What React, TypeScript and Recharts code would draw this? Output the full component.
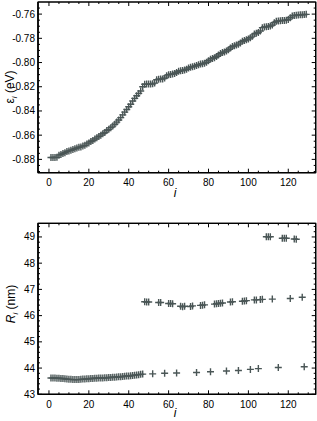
import { ScatterChart, Scatter, XAxis, YAxis, CartesianGrid, ReferenceArea } from 'recharts'

// top panel: orbital energy for every state i
const stateIndex = [
  1, 2, 3, 4, 5, 6, 7, 8, 9, 10, 11, 12, 13, 14, 15, 16, 17, 18, 19, 20,
  21, 22, 23, 24, 25, 26, 27, 28, 29, 30, 31, 32, 33, 34, 35, 36, 37, 38, 39, 40,
  41, 42, 43, 44, 45, 46, 47, 48, 49, 50, 51, 52, 53, 54, 55, 56, 57, 58, 59, 60,
  61, 62, 63, 64, 65, 66, 67, 68, 69, 70, 71, 72, 73, 74, 75, 76, 77, 78, 79, 80,
  81, 82, 83, 84, 85, 86, 87, 88, 89, 90, 91, 92, 93, 94, 95, 96, 97, 98, 99, 100,
  101, 102, 103, 104, 105, 106, 107, 108, 109, 110, 111, 112, 113, 114, 115, 116, 117, 118, 119, 120,
  121, 122, 123, 124, 125, 126, 127, 128, 129,
]
const energies = [
  -0.8785, -0.8785, -0.8784, -0.8782, -0.8765, -0.876, -0.8752, -0.8745, -0.8735, -0.873,
  -0.8724, -0.8718, -0.8712, -0.8706, -0.87, -0.8697, -0.869, -0.8684, -0.8672, -0.8664,
  -0.8652, -0.8644, -0.8632, -0.8622, -0.861, -0.86, -0.8588, -0.8578, -0.8562, -0.8552,
  -0.8538, -0.8525, -0.851, -0.8492, -0.8475, -0.8455, -0.8432, -0.841, -0.8388, -0.8365,
  -0.8345, -0.8318, -0.8296, -0.8275, -0.8255, -0.8235, -0.82, -0.818, -0.8178, -0.8178,
  -0.8178, -0.8176, -0.817, -0.8142, -0.8138, -0.8137, -0.8135, -0.8128, -0.811, -0.81,
  -0.8098, -0.8095, -0.809, -0.8082, -0.8072, -0.8068, -0.8066, -0.8062, -0.8055, -0.8045,
  -0.8038, -0.8035, -0.803, -0.8025, -0.8018, -0.8013, -0.801, -0.8005, -0.7998, -0.7985,
  -0.7972, -0.7966, -0.796, -0.795, -0.7938, -0.7925, -0.7918, -0.7912, -0.7905, -0.7895,
  -0.788, -0.7868, -0.7862, -0.7856, -0.7848, -0.7838, -0.7825, -0.7818, -0.7812, -0.7805,
  -0.7795, -0.7782, -0.7765, -0.7758, -0.7752, -0.774, -0.7712, -0.7706, -0.7704, -0.7702,
  -0.7698, -0.769, -0.7672, -0.766, -0.7656, -0.7655, -0.7653, -0.7652, -0.765, -0.7645,
  -0.763, -0.7615, -0.7612, -0.761, -0.7608, -0.7606, -0.7605, -0.7603, -0.7602,
]

// bottom panel: radius, split in the three visible branches
const lowerIndex = [
  1, 2, 3, 4, 5, 6, 7, 8, 9, 10, 11, 12, 13, 14, 15, 16, 17, 18, 19, 20,
  21, 22, 23, 24, 25, 26, 27, 28, 29, 30, 31, 32, 33, 34, 35, 36, 37, 38, 39, 40,
  41, 42, 43, 44, 45, 46, 47, 52, 58, 64, 74, 81, 89, 95, 101, 105, 115, 128,
]
const lowerRadius = [
  43.62, 43.62, 43.62, 43.61, 43.61, 43.6, 43.6, 43.59, 43.58, 43.57,
  43.57, 43.56, 43.56, 43.56, 43.56, 43.57, 43.58, 43.58, 43.59, 43.59,
  43.6, 43.6, 43.61, 43.61, 43.62, 43.62, 43.62, 43.63, 43.63, 43.64,
  43.64, 43.65, 43.65, 43.66, 43.67, 43.67, 43.68, 43.69, 43.7, 43.7,
  43.71, 43.72, 43.73, 43.74, 43.75, 43.76, 43.77,
  43.78, 43.8, 43.81, 43.83, 43.86, 43.89, 43.91, 43.95, 43.98, 44.02, 44.05,
]
const middleIndex = [
  48, 49, 50, 55, 56, 60, 61, 62, 66, 67, 68, 71, 72, 76, 77, 78,
  83, 84, 85, 86, 87, 91, 92, 97, 98, 99, 103, 104, 106, 107, 112, 121, 127,
]
const middleRadius = [
  46.53, 46.52, 46.52, 46.5, 46.5, 46.46, 46.46, 46.45, 46.36, 46.34, 46.36, 46.35, 46.37, 46.39, 46.4, 46.41,
  46.44, 46.45, 46.46, 46.47, 46.48, 46.52, 46.53, 46.55, 46.56, 46.57, 46.6, 46.6, 46.61, 46.62, 46.63, 46.65, 46.7,
]
const upperIndex = [109, 110, 111, 117, 118, 119, 123, 124]
const upperRadius = [49.01, 49.01, 49.01, 48.95, 48.95, 48.95, 48.92, 48.91]

const xMajorTicks = [0, 20, 40, 60, 80, 100, 120]
const energyMajorTicks = [-0.88, -0.86, -0.84, -0.82, -0.8, -0.78, -0.76]
const radiusMajorTicks = [43, 44, 45, 46, 47, 48, 49]

const FONT = '"Liberation Sans", Arial, Helvetica, sans-serif'
const MARK = '#4a5656'
const X_DOMAIN: [number, number] = [-5.5, 133.75]
const ENERGY_DOMAIN: [number, number] = [-0.891, -0.75]
const RADIUS_DOMAIN: [number, number] = [43, 49.52]

// plot frame geometry
const CHART_W = 317
const LEFT = 38
const RIGHT_GAP = 1.3
const PLOT_W = CHART_W - LEFT - RIGHT_GAP
const TOP1 = 2
const AXIS1 = 27.3
const H1 = 200
const PLOT_H1 = H1 - TOP1 - AXIS1
const TOP2 = 23.3
const AXIS2 = 26.7
const H2 = 221
const PLOT_H2 = H2 - TOP2 - AXIS2

// minor tick positions (every 5 in i, 0.005 eV, 0.2 nm)
const xMinorTicks: number[] = []
for (let k = 0; k <= 26; k++) xMinorTicks.push(k * 5)
const energyMinorTicks: number[] = []
for (let k = -178; k <= -151; k++) energyMinorTicks.push(Number((k * 0.005).toFixed(3)))
const radiusMinorTicks: number[] = []
for (let k = 215; k <= 247; k++) radiusMinorTicks.push(Number((k * 0.2).toFixed(1)))

const energyData = stateIndex.map((i, n) => ({ i, v: energies[n] }))
const lowerData = lowerIndex.map((i, n) => ({ i, v: lowerRadius[n] }))
const middleData = middleIndex.map((i, n) => ({ i, v: middleRadius[n] }))
const upperData = upperIndex.map((i, n) => ({ i, v: upperRadius[n] }))

function isMajor(v: number, majors: number[]) {
  return majors.some((m) => Math.abs(m - v) < 1e-6)
}

// inward tick marks on both opposite sides; labels only on the major ones
function makeXTick(majors: number[], plotH: number) {
  // eslint-disable-next-line @typescript-eslint/no-explicit-any
  return (props: any) => {
    const { x, y, payload } = props
    const v = payload?.value
    const major = isMajor(v, majors)
    const len = major ? 4 : 2
    const top = y - plotH
    return (
      <g>
        <line x1={x} y1={y} x2={x} y2={y - len} stroke="#000" />
        <line x1={x} y1={top} x2={x} y2={top + len} stroke="#000" />
        {major && (
          <text x={x} y={y + 13.5} textAnchor="middle" fontFamily={FONT} fontSize={10} fill="#000">
            {String(v)}
          </text>
        )}
      </g>
    )
  }
}

function makeYTick(majors: number[], fmt: (v: number) => string) {
  // eslint-disable-next-line @typescript-eslint/no-explicit-any
  return (props: any) => {
    const { x, y, payload } = props
    const v = payload?.value
    const major = isMajor(v, majors)
    const len = major ? 4 : 2
    const right = x + PLOT_W
    return (
      <g>
        <line x1={x} y1={y} x2={x + len} y2={y} stroke="#000" />
        <line x1={right} y1={y} x2={right - len} y2={y} stroke="#000" />
        {major && (
          <text x={x - 3} y={y + 3.5} textAnchor="end" fontFamily={FONT} fontSize={10} fill="#000">
            {fmt(v)}
          </text>
        )}
      </g>
    )
  }
}

// "+" marker
// eslint-disable-next-line @typescript-eslint/no-explicit-any
function PlusMark(props: any) {
  const { cx, cy } = props
  if (cx == null || cy == null) return <g />
  return (
    <g stroke={MARK} strokeWidth={1.4}>
      <line x1={cx - 3.5} y1={cy} x2={cx + 3.5} y2={cy} />
      <line x1={cx} y1={cy - 3.5} x2={cx} y2={cy + 3.5} />
    </g>
  )
}

function EnergyTitle() {
  return (
    <text transform="translate(13.5,87) rotate(-90)" textAnchor="middle" fontFamily={FONT} fontSize={12} fill="#000">
      <tspan>ε</tspan>
      <tspan fontStyle="italic" fontSize={8} dy={3}>i</tspan>
      <tspan dy={-3}> (eV)</tspan>
    </text>
  )
}

function RadiusTitle() {
  return (
    <text transform="translate(15,104) rotate(-90)" textAnchor="middle" fontFamily={FONT} fontSize={12} fill="#000">
      <tspan fontStyle="italic">R</tspan>
      <tspan fontStyle="italic" fontSize={8} dy={3}>i</tspan>
      <tspan dy={-3}> (nm)</tspan>
    </text>
  )
}

function IndexTitle({ baseline }: { baseline: number }) {
  return (
    <text x={175} y={baseline} textAnchor="middle" fontFamily={FONT} fontSize={12} fontStyle="italic" fill="#000">
      i
    </text>
  )
}

export default function App() {
  const fmtEnergy = (v: number) => v.toFixed(2)
  const fmtRadius = (v: number) => String(Math.round(v))

  return (
    <div style={{ position: 'absolute', left: 0, top: 0, width: CHART_W, height: 421, background: '#fff' }}>
      <ScatterChart width={CHART_W} height={H1} margin={{ top: TOP1, right: RIGHT_GAP, bottom: 0, left: 0 }}>
        {/* box frame around the plot */}
        <CartesianGrid
          xAxisId="b"
          yAxisId="l"
          stroke="#000"
          strokeWidth={1.2}
          horizontalPoints={[TOP1, TOP1 + PLOT_H1]}
          verticalPoints={[LEFT, LEFT + PLOT_W]}
        />
        <XAxis
          xAxisId="b"
          type="number"
          dataKey="i"
          domain={X_DOMAIN}
          allowDataOverflow
          ticks={xMinorTicks}
          interval={0}
          height={AXIS1}
          tickSize={0}
          tickMargin={0}
          tickLine={false}
          axisLine={{ stroke: '#000' }}
          tick={makeXTick(xMajorTicks, PLOT_H1)}
          label={<IndexTitle baseline={197} />}
        />
        <YAxis
          yAxisId="l"
          type="number"
          dataKey="v"
          domain={ENERGY_DOMAIN}
          allowDataOverflow
          ticks={energyMinorTicks}
          interval={0}
          width={LEFT}
          tickSize={0}
          tickMargin={0}
          tickLine={false}
          axisLine={{ stroke: '#000' }}
          tick={makeYTick(energyMajorTicks, fmtEnergy)}
          label={<EnergyTitle />}
        />
        <ReferenceArea
          xAxisId="b"
          yAxisId="l"
          x1={X_DOMAIN[0]}
          x2={X_DOMAIN[1]}
          y1={ENERGY_DOMAIN[0]}
          y2={ENERGY_DOMAIN[1]}
          fill="none"
          fillOpacity={0}
          stroke="#000"
          strokeWidth={1.2}
          ifOverflow="visible"
        />
        <Scatter xAxisId="b" yAxisId="l" data={energyData} shape={<PlusMark />} isAnimationActive={false} />
      </ScatterChart>

      <ScatterChart width={CHART_W} height={H2} margin={{ top: TOP2, right: RIGHT_GAP, bottom: 0, left: 0 }}>
        <CartesianGrid
          xAxisId="b"
          yAxisId="l"
          stroke="#000"
          strokeWidth={1.2}
          horizontalPoints={[TOP2, TOP2 + PLOT_H2]}
          verticalPoints={[LEFT, LEFT + PLOT_W]}
        />
        <XAxis
          xAxisId="b"
          type="number"
          dataKey="i"
          domain={X_DOMAIN}
          allowDataOverflow
          ticks={xMinorTicks}
          interval={0}
          height={AXIS2}
          tickSize={0}
          tickMargin={0}
          tickLine={false}
          axisLine={{ stroke: '#000' }}
          tick={makeXTick(xMajorTicks, PLOT_H2)}
          label={<IndexTitle baseline={217} />}
        />
        <YAxis
          yAxisId="l"
          type="number"
          dataKey="v"
          domain={RADIUS_DOMAIN}
          allowDataOverflow
          ticks={radiusMinorTicks}
          interval={0}
          width={LEFT}
          tickSize={0}
          tickMargin={0}
          tickLine={false}
          axisLine={{ stroke: '#000' }}
          tick={makeYTick(radiusMajorTicks, fmtRadius)}
          label={<RadiusTitle />}
        />
        <ReferenceArea
          xAxisId="b"
          yAxisId="l"
          x1={X_DOMAIN[0]}
          x2={X_DOMAIN[1]}
          y1={RADIUS_DOMAIN[0]}
          y2={RADIUS_DOMAIN[1]}
          fill="none"
          fillOpacity={0}
          stroke="#000"
          strokeWidth={1.2}
          ifOverflow="visible"
        />
        <Scatter xAxisId="b" yAxisId="l" data={lowerData} shape={<PlusMark />} isAnimationActive={false} />
        <Scatter xAxisId="b" yAxisId="l" data={middleData} shape={<PlusMark />} isAnimationActive={false} />
        <Scatter xAxisId="b" yAxisId="l" data={upperData} shape={<PlusMark />} isAnimationActive={false} />
      </ScatterChart>
    </div>
  )
}
